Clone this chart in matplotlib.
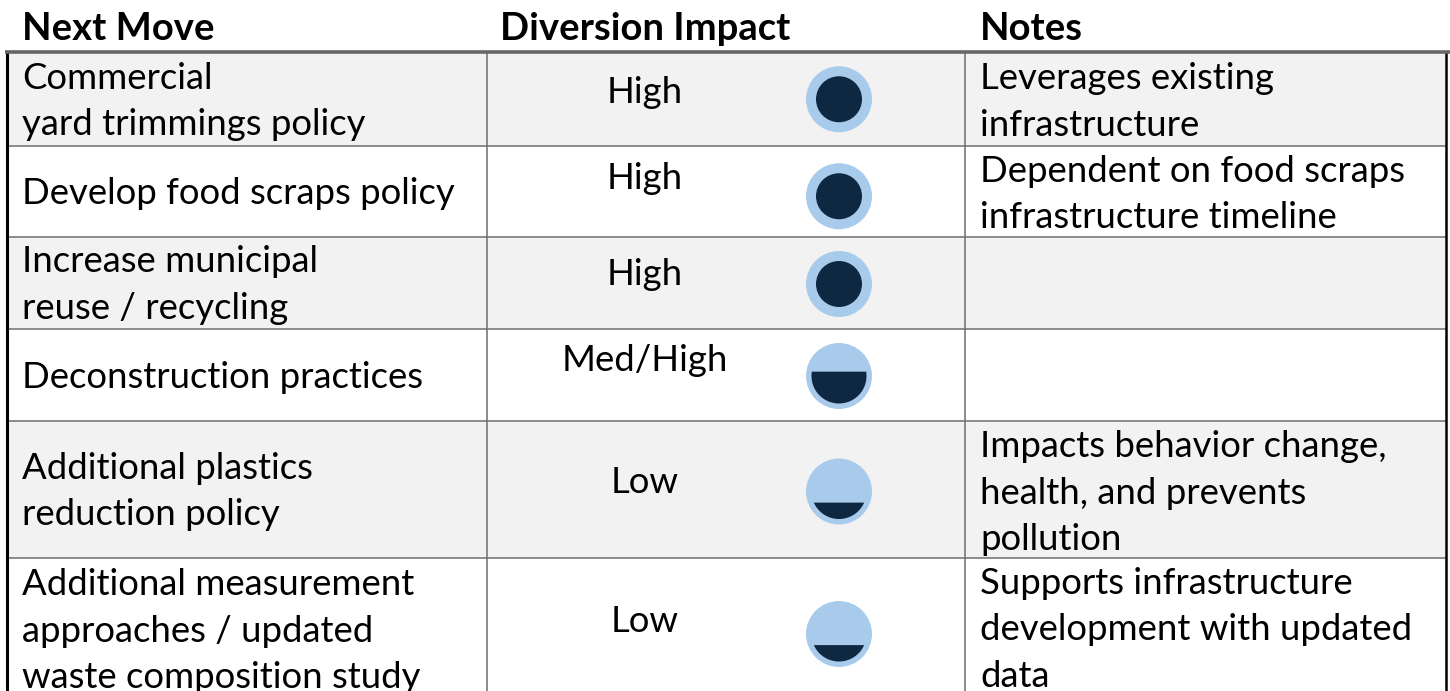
import numpy as np
import matplotlib.pyplot as plt
from matplotlib.patches import Rectangle, Circle, Polygon

# table content
headers = ["Next Move", "Diversion Impact", "Notes"]
moves = [
    "Commercial\nyard trimmings policy",
    "Develop food scraps policy",
    "Increase municipal\nreuse / recycling",
    "Deconstruction practices",
    "Additional plastics\nreduction policy",
    "Additional measurement\napproaches / updated\nwaste composition study",
]
impact_labels = ["High", "High", "High", "Med/High", "Low", "Low"]
impact_fill = [1.0, 1.0, 1.0, 0.6, 0.25, 0.25]
notes = [
    "Leverages existing\ninfrastructure",
    "Dependent on food scraps\ninfrastructure timeline",
    "",
    "",
    "Impacts behavior change,\nhealth, and prevents\npollution",
    "Supports infrastructure\ndevelopment with updated\ndata",
]

# layout (pixels)
W, H = 1450, 691
row_edges = [53, 145.5, 237, 329, 421, 558, 700]
col_edges = [7, 487, 965, 1446]
ball_x = 839
ball_dy = [0, 5, 1, 1, 2, 5]
label_dy = [-7, -13, -9, -15, -7, -7]
line_h = 46
light = "#a8cbec"
dark = "#0f2841"
grid_c = "#6e6e6e"
font = "Lato"
fs = 26.3
ls = 1.5

fig = plt.figure(figsize=(W / 100, H / 100), dpi=100)
ax = fig.add_axes([0, 0, 1, 1])
ax.set_xlim(0, W)
ax.set_ylim(H, 0)
ax.axis("off")

for i in range(len(moves)):
    top, bot = row_edges[i], row_edges[i + 1]
    mid = (top + bot) / 2
    if i % 2 == 0:
        ax.add_patch(Rectangle((col_edges[0], top), col_edges[-1] - col_edges[0], bot - top,
                               facecolor="#f2f2f2", edgecolor="none", zorder=0))
    if i > 0:
        ax.plot([col_edges[0], col_edges[-1]], [top, top], color=grid_c, lw=1.1, zorder=2)

    # first column
    ax.text(22, mid + 2, moves[i], fontsize=fs, family=font, va="center", ha="left",
            linespacing=ls, color="black")
    # notes
    if notes[i]:
        nl = notes[i].count("\n") + 1
        ax.text(980, top + 3 + nl * line_h / 2, notes[i], fontsize=fs, family=font,
                va="center", ha="left", linespacing=ls, color="black")
    # impact label
    ax.text(645, mid + label_dy[i], impact_labels[i], fontsize=fs, family=font,
            va="center", ha="center", color="black")

    # harvey ball
    cy = mid + ball_dy[i]
    ax.add_patch(Circle((ball_x, cy), 33, facecolor=light, edgecolor="none", zorder=3))
    f = impact_fill[i]
    if f >= 1:
        ax.add_patch(Circle((ball_x, cy), 23, facecolor=dark, edgecolor="none", zorder=4))
    else:
        r = 27.5
        # chord offset that fills fraction f of the inner disk from the bottom
        hs = np.linspace(0, 2 * r, 2001)
        areas = r ** 2 * np.arccos((r - hs) / r) - (r - hs) * np.sqrt(np.clip(2 * r * hs - hs ** 2, 0, None))
        h = hs[np.argmin(np.abs(areas / (np.pi * r ** 2) - f))]
        d = r - h
        t0 = np.arcsin(d / r)
        th = np.linspace(t0, np.pi - t0, 100)
        pts = np.column_stack([ball_x + r * np.cos(th), cy + r * np.sin(th)])
        ax.add_patch(Polygon(pts, closed=True, facecolor=dark, edgecolor="none", zorder=4))

# column dividers and borders
for x in col_edges[1:-1]:
    ax.plot([x, x], [53, H], color=grid_c, lw=1.1, zorder=2)
ax.plot([col_edges[0], col_edges[0]], [53, H], color="black", lw=2.2, zorder=5)
ax.plot([col_edges[-1], col_edges[-1]], [53, H], color="black", lw=1.8, zorder=5)
ax.plot([5, W], [51.5, 51.5], color="#666666", lw=2.6, zorder=6, solid_capstyle="butt")

# headers
hx = [22, 500, 980]
for x, t in zip(hx, headers):
    ax.text(x, 29, t, fontsize=27.5, family=font, fontweight="bold", va="center", ha="left")

fig.savefig("out.png", dpi=100)
